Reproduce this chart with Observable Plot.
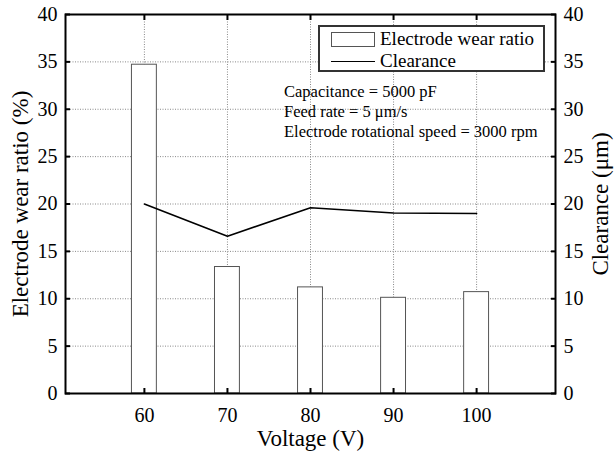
<!DOCTYPE html>
<html>
<head>
<meta charset="utf-8">
<script src="https://cdn.jsdelivr.net/npm/d3@7"></script>
<script src="https://cdn.jsdelivr.net/npm/@observablehq/plot@0.6"></script>
<style>
  html, body { margin: 0; padding: 0; background: #fff; font-family: 'Liberation Serif', serif; }
  #chart { position: relative; width: 615px; height: 455px; }
  #chart svg { position: absolute; left: 0; top: 0; }
  .legend { position: absolute; left: 318px; top: 25px; width: 223px; height: 43px; border: 2px solid #333; background: #fff; font-family: 'Liberation Serif', serif; font-size: 19px; line-height: 22px; color: #000; }
  .legend .row { position: absolute; left: 60px; white-space: nowrap; }
  .legend .sw-rect { position: absolute; left: 11px; top: 5px; width: 42px; height: 13px; border: 1px solid #555; background: #fff; }
  .legend .sw-line { position: absolute; left: 11px; top: 34px; width: 44px; height: 0; border-top: 1.6px solid #000; }
  .notes { position: absolute; left: 284px; top: 82px; font-family: 'Liberation Serif', serif; font-size: 16.5px; line-height: 20px; color: #000; white-space: nowrap; }
</style>
</head>
<body>
<div id="chart"></div>
<script>
const voltage = [60, 70, 80, 90, 100];
const wearRatio = [34.7, 13.35, 11.2, 10.1, 10.7];
const clearance = [20.0, 16.6, 19.6, 19.05, 19.0];
const xTicks = [60, 70, 80, 90, 100];
const yTicks = [0, 5, 10, 15, 20, 25, 30, 35, 40];
const legendLabels = ["Electrode wear ratio", "Clearance"];
const notes = ["Capacitance = 5000 pF", "Feed rate = 5 \u03bcm/s", "Electrode rotational speed = 3000 rpm"];

const data = voltage.map((v, i) => ({v, wear: wearRatio[i], clr: clearance[i]}));
const halfBar = 1.5;
const FONT = "Liberation Serif";

const plot = Plot.plot({
  width: 615,
  height: 455,
  marginLeft: 65,
  marginRight: 60,
  marginTop: 14,
  marginBottom: 62,
  style: {fontFamily: FONT, fontSize: "20px"},
  x: {domain: [50.5, 109.5]},
  y: {domain: [0, 40]},
  marks: [
    Plot.gridX(xTicks, {stroke: "#888", strokeOpacity: 1, strokeDasharray: "1,1.5"}),
    Plot.gridY(yTicks.slice(1, -1), {stroke: "#888", strokeOpacity: 1, strokeDasharray: "1,1.5"}),
    Plot.rectY(data, {x1: d => d.v - halfBar, x2: d => d.v + halfBar, y1: 0, y2: "wear", fill: "#fff", stroke: "#555", strokeWidth: 1}),
    Plot.line(data, {x: "v", y: "clr", stroke: "#000", strokeWidth: 1.6}),
    Plot.axisX(xTicks, {anchor: "bottom", tickSize: -5, tickFormat: () => "", label: null, strokeWidth: 2}),
    Plot.axisX(xTicks, {anchor: "top", tickSize: -5, tickFormat: () => "", label: null, strokeWidth: 2}),
    Plot.axisY(yTicks, {anchor: "left", tickSize: -5, tickFormat: () => "", label: null, strokeWidth: 2}),
    Plot.axisY(yTicks, {anchor: "right", tickSize: -5, tickFormat: () => "", label: null, strokeWidth: 2}),
    Plot.axisX(xTicks, {anchor: "bottom", tickSize: 0, tickPadding: 14, fontSize: 20, label: "Voltage (V)", labelAnchor: "center", labelOffset: 52, labelArrow: "none"}),
    Plot.axisY(yTicks, {anchor: "left", tickSize: 0, tickPadding: 8, fontSize: 20, label: "Electrode wear ratio (%)", labelAnchor: "center", labelOffset: 54, labelArrow: "none"}),
    Plot.axisY(yTicks, {anchor: "right", tickSize: 0, tickPadding: 8, fontSize: 20, label: "Clearance (\u03bcm)", labelAnchor: "center", labelOffset: 52, labelArrow: "none"}),
    Plot.frame({stroke: "#000", strokeWidth: 2})
  ]
});

const chart = document.getElementById("chart");
chart.appendChild(plot);
d3.select(plot).selectAll("[aria-label$='axis label'] text").attr("font-size", 23);

// Legend (HTML overlay)
const legend = d3.select(chart).append("div").attr("class", "legend");
legend.append("div").attr("class", "sw-rect");
legend.append("div").attr("class", "sw-line");
legend.append("div").attr("class", "row").style("top", "1px").text(legendLabels[0]);
legend.append("div").attr("class", "row").style("top", "23px").text(legendLabels[1]);

// Notes (HTML overlay)
const notesDiv = d3.select(chart).append("div").attr("class", "notes");
notes.forEach(t => notesDiv.append("div").text(t));
</script>
</body>
</html>
